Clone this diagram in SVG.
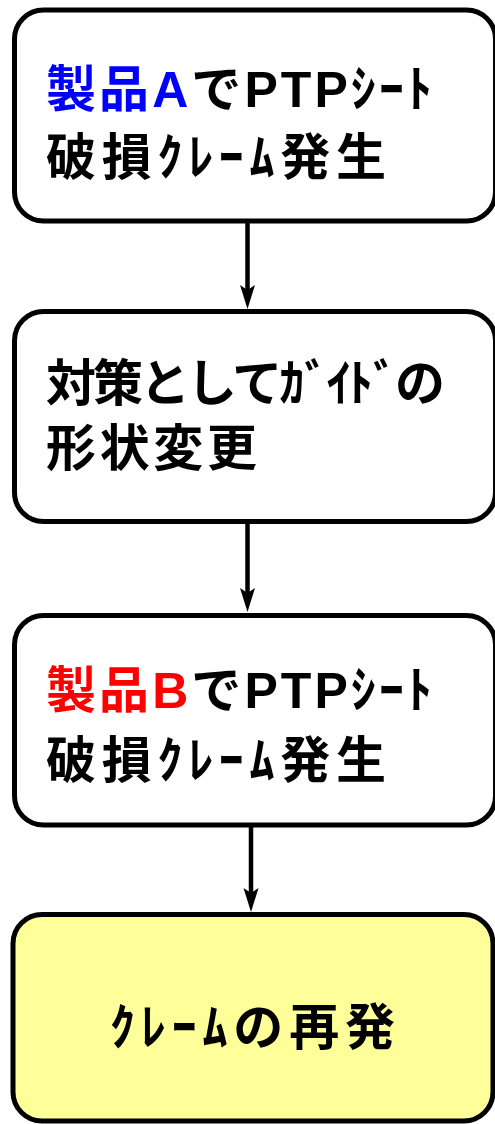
<svg xmlns="http://www.w3.org/2000/svg" width="495" height="1124" viewBox="0 0 495 1124">
<style>
.box{fill:#FFFFFF;stroke:#000000;stroke-width:5}
.hl{fill:#FFFF99}
.t{font-family:"Liberation Sans","Noto Sans CJK JP",sans-serif;font-weight:bold;font-size:50px;fill:#000000}
.blue{fill:#0000FF}
.red{fill:#FF0000}
.conn{stroke:#000000;stroke-width:4.5;fill:none}
</style>
<defs>
<marker id="arr" markerUnits="userSpaceOnUse" markerWidth="30" markerHeight="20" viewBox="0 -10 30 20" refX="6" refY="0" orient="auto">
<path d="M0,-7.5 L24,0 L0,7.5 L5,0 z" fill="#000000"/>
</marker>
</defs>
<g id="connectors">
<line class="conn" x1="247.5" y1="221" x2="247.5" y2="291" marker-end="url(#arr)"/>
<line class="conn" x1="247.5" y1="521.5" x2="247.5" y2="594" marker-end="url(#arr)"/>
<line class="conn" x1="251" y1="825" x2="251" y2="894" marker-end="url(#arr)"/>
</g>
<g id="node1">
<rect class="box" x="14.5" y="10" width="481" height="211" rx="29" ry="29"/>
<text class="t" x="46" y="107" textLength="386" lengthAdjust="spacing"><tspan class="blue">製品A</tspan>でPTPｼｰﾄ</text>
<text class="t" x="46" y="175" textLength="340" lengthAdjust="spacing">破損ｸﾚｰﾑ発生</text>
</g>
<g id="node2">
<rect class="box" x="14.5" y="311.5" width="481" height="210" rx="29" ry="29"/>
<text class="t" x="46" y="401" textLength="399" lengthAdjust="spacing">対策としてｶﾞｲﾄﾞの</text>
<text class="t" x="46" y="466" textLength="211" lengthAdjust="spacing">形状変更</text>
</g>
<g id="node3">
<rect class="box" x="14.5" y="615.5" width="481" height="209.5" rx="29" ry="29"/>
<text class="t" x="46" y="708" textLength="386" lengthAdjust="spacing"><tspan class="red">製品B</tspan>でPTPｼｰﾄ</text>
<text class="t" x="46" y="778" textLength="340" lengthAdjust="spacing">破損ｸﾚｰﾑ発生</text>
</g>
<g id="node4">
<rect class="box hl" x="13" y="914.5" width="480" height="206.5" rx="29" ry="29"/>
<text class="t" x="110" y="1045" textLength="285" lengthAdjust="spacing">ｸﾚｰﾑの再発</text>
</g>
</svg>
